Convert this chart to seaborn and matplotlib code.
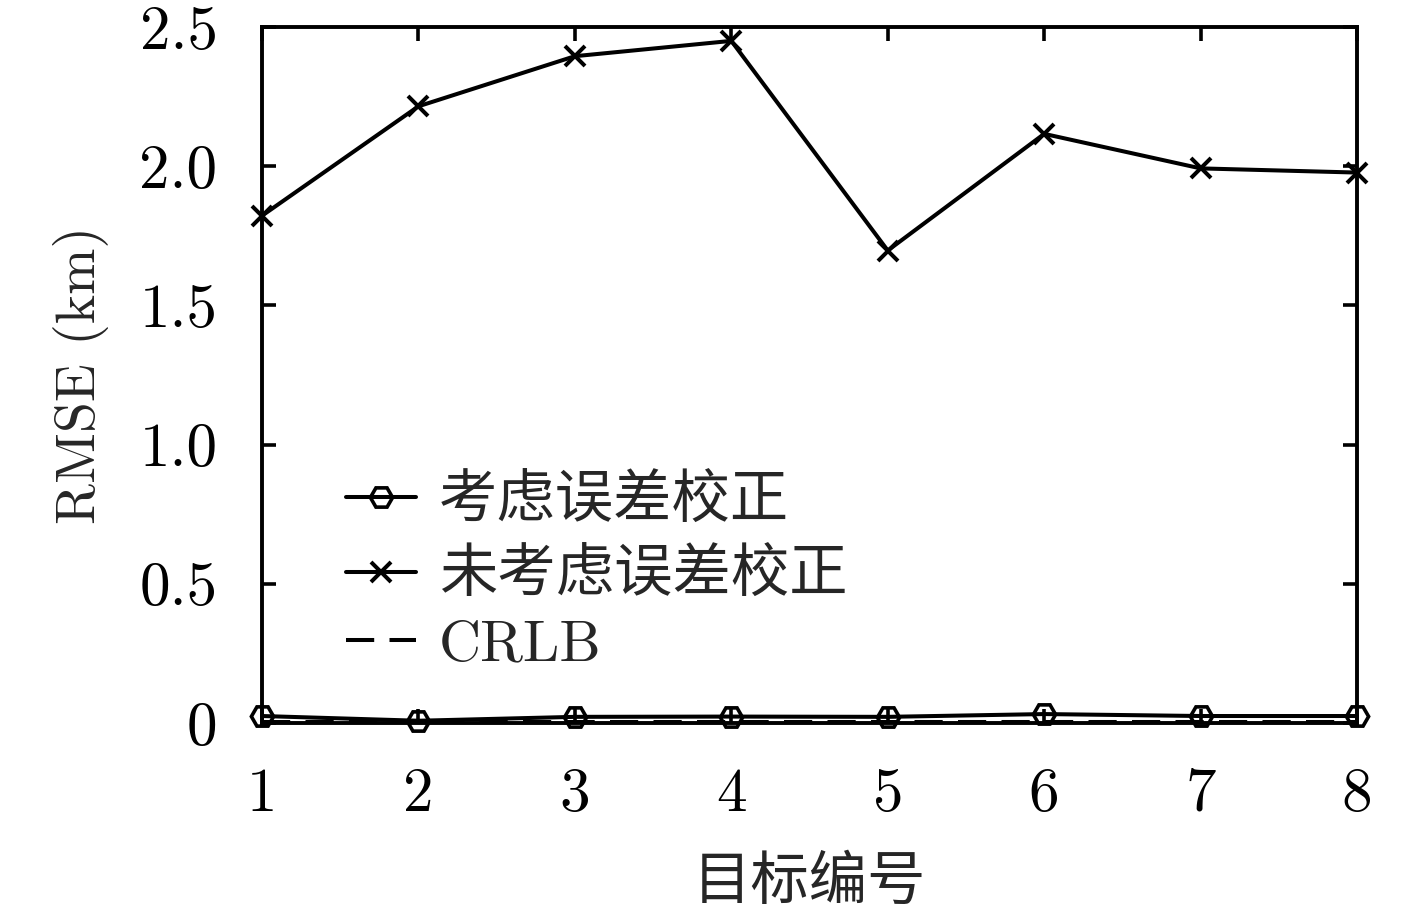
import matplotlib
matplotlib.use("Agg")
import matplotlib.pyplot as plt
import seaborn as sns
import pandas as pd

targets = [1, 2, 3, 4, 5, 6, 7, 8]
with_corr = [0.025, 0.008, 0.022, 0.023, 0.022, 0.032, 0.025, 0.025]
without_corr = [1.822, 2.215, 2.395, 2.450, 1.697, 2.116, 1.992, 1.977]
crlb = [0.003, 0.003, 0.003, 0.003, 0.003, 0.003, 0.003, 0.003]
labels = ["考虑误差校正", "未考虑误差校正", "CRLB"]
yticks = [0, 0.5, 1.0, 1.5, 2.0, 2.5]
yticklabels = ["0", "0.5", "1.0", "1.5", "2.0", "2.5"]

sns.set_style("white")
plt.rcParams["font.family"] = ["cmr10", "Noto Sans CJK SC", "DejaVu Sans"]
plt.rcParams["axes.formatter.use_mathtext"] = True
plt.rcParams["axes.unicode_minus"] = False

df = pd.DataFrame({"x": targets, "a": with_corr, "b": without_corr, "c": crlb})

fig = plt.figure(figsize=(14.17, 9.14), dpi=100)
ax = fig.add_axes([0.1849, 0.2090, 0.7728, 0.7615])

lw = 2.9
sns.lineplot(data=df, x="x", y="a", ax=ax, color="black", lw=lw, marker="H",
             markersize=16, markerfacecolor="none", markeredgecolor="black",
             markeredgewidth=2.6, label=labels[0], clip_on=False, zorder=4)
sns.lineplot(data=df, x="x", y="b", ax=ax, color="black", lw=lw, marker="x",
             markersize=15, markeredgecolor="black", markeredgewidth=2.9,
             label=labels[1], clip_on=False, zorder=4)
sns.lineplot(data=df, x="x", y="c", ax=ax, color="black", lw=lw, linestyle=(0, (7, 3.8)),
             label=labels[2], zorder=3)

ax.set_xlim(1, 8)
ax.set_ylim(0, 2.5)
ax.set_xticks(targets)
ax.set_xticklabels([str(t) for t in targets])
ax.set_yticks(yticks)
ax.set_yticklabels(yticklabels)
ax.tick_params(direction="in", length=10, width=2.6, labelsize=44, pad=32,
               top=True, right=True, bottom=True, left=True, colors="black")
for s in ax.spines.values():
    s.set_linewidth(2.8)
    s.set_color("black")

ax.set_xlabel("目标编号", fontsize=42, family=["Noto Sans CJK SC"], labelpad=21)
ax.set_ylabel("RMSE (km)", fontsize=40, labelpad=22)

leg = ax.legend(loc="upper left", bbox_to_anchor=(0.055, 0.396), frameon=False,
                fontsize=42, handlelength=1.2, handletextpad=0.4, labelspacing=0.23,
                numpoints=1, borderaxespad=0)
for t in leg.get_texts():
    t.set_family(["Noto Sans CJK SC", "cmr10"])
leg.get_texts()[2].set_family(["cmr10"])

fig.savefig("out.png", dpi=100)
